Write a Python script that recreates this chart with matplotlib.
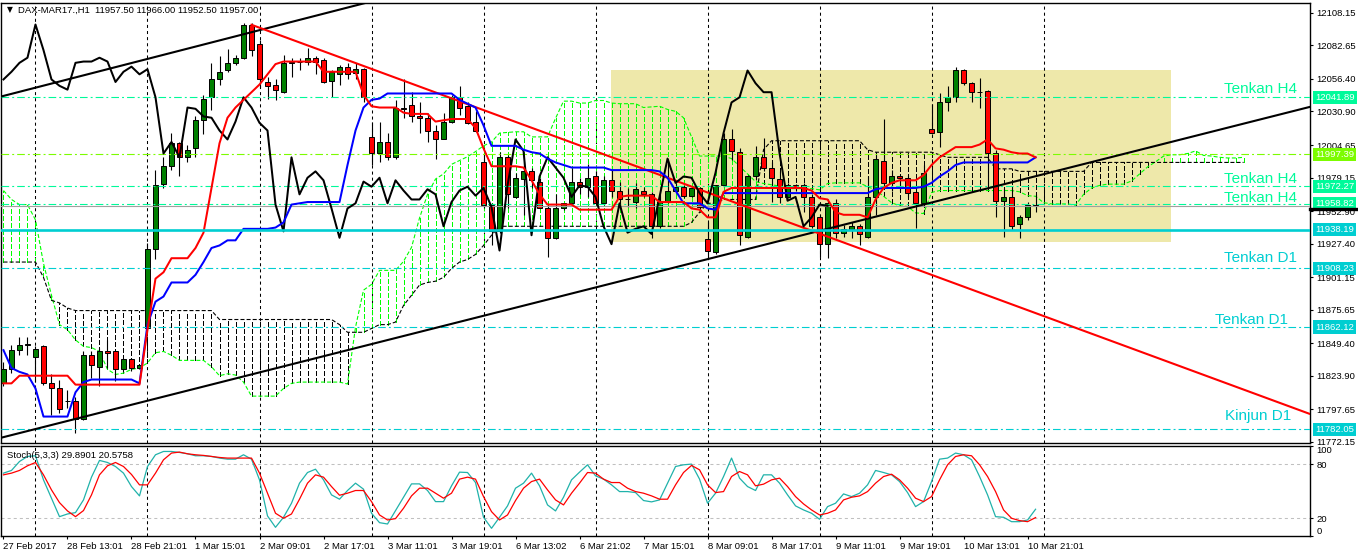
import matplotlib
matplotlib.use('Agg')
import matplotlib.pyplot as plt
import numpy as np
from matplotlib.patches import Rectangle
from matplotlib.transforms import blended_transform_factory as blend

plt.rcParams['font.family'] = ['Liberation Sans', 'DejaVu Sans']
plt.rcParams['lines.scale_dashes'] = False

# --- DAX-MAR17 H1 ---
opens = [11818, 11829, 11844, 11848, 11839, 11847, 11818, 11814, 11804, 11804,
         11790, 11840, 11831, 11843, 11843, 11829, 11837, 11830, 11861, 11923,
         11974, 11988, 12006, 11995, 12002, 12024, 12042, 12056, 12063, 12069,
         12073, 12099, 12084, 12054, 12052, 12046, 12069, 12070, 12070, 12073,
         12071, 12055, 12060, 12066, 12061, 12064, 12011, 11998, 12007, 11995,
         12034, 12036, 12027, 12026, 12016, 12009, 12023, 12042, 12035, 12023,
         11991, 11958, 11937, 11995, 11964, 11978, 11984, 11976, 11955, 11932,
         11955, 11959, 11976, 11972, 11980, 11959, 11977, 11969, 11962, 11960,
         11969, 11966, 11941, 11960, 11969, 11972, 11965, 11971, 11931, 11921,
         11973, 12009, 11999, 11933, 11980, 11995, 11987, 11978, 11964, 11973,
         11973, 11964, 11948, 11927, 11959, 11936, 11939, 11941, 11933, 11964,
         11992, 11975, 11980, 11979, 11968, 11959, 12017, 12015, 12038, 12042,
         12063, 12053, 12046, 12047, 11998, 11961, 11964, 11943, 11948, 11957.5]
highs = [11835, 11848, 11854, 11854, 11847, 11848, 11825, 11821, 11813, 11807,
         11843, 11843, 11846, 11852, 11843, 11838, 11838, 11833, 11928, 11985,
         11995, 12014, 12007, 12005, 12027, 12044, 12069, 12074, 12080, 12075,
         12100, 12100, 12087, 12058, 12056, 12075, 12073, 12073, 12081, 12074,
         12073, 12063, 12067, 12069, 12069, 12065, 12023, 12023, 12014, 12040,
         12056, 12046, 12038, 12030, 12020, 12030, 12044, 12051, 12038, 12031,
         11997, 11959, 11999, 11997, 11983, 11991, 11987, 11979, 11958, 11966,
         11959, 11987, 11979, 11990, 11984, 11980, 11985, 11976, 11971, 11975,
         11972, 11968, 11966, 11994, 11975, 11973, 11972, 11972, 11944, 11973,
         12014, 12017, 12002, 11981, 12004, 12010, 11991, 11984, 11975, 11974,
         11975, 11966, 11950, 11962, 11962, 11942, 11944, 11943, 11980, 11997,
         12025, 11985, 11981, 11981, 11969, 11989, 12037, 12045, 12051, 12066,
         12064, 12054, 12057, 12048, 12001, 11971, 11972, 11950, 11960, 11966]
lows = [11816, 11826, 11840, 11840, 11819, 11817, 11793, 11795, 11799, 11779,
        11789, 11822, 11816, 11830, 11820, 11828, 11828, 11829, 11860, 11915,
        11971, 11985, 11980, 11991, 11995, 12013, 12032, 12052, 12062, 12067,
        12072, 12074, 12049, 12041, 12040, 12045, 12058, 12063, 12067, 12060,
        12053, 12042, 12052, 12056, 12056, 12038, 11989, 11991, 11993, 11994,
        12026, 12023, 12014, 12007, 11994, 12009, 12022, 12028, 12021, 12015,
        11955, 11926, 11936, 11955, 11963, 11950, 11971, 11955, 11917, 11931,
        11954, 11958, 11966, 11964, 11958, 11958, 11964, 11958, 11956, 11955,
        11964, 11932, 11940, 11959, 11967, 11963, 11964, 11952, 11916, 11919,
        11972, 11993, 11926, 11932, 11977, 11984, 11960, 11959, 11963, 11969,
        11952, 11940, 11917, 11916, 11932, 11933, 11932, 11926, 11932, 11950,
        11973, 11969, 11969, 11964, 11940, 11958, 12013, 12003, 12031, 12038,
        12052, 12038, 12034, 11972, 11948, 11933, 11938, 11932, 11946, 11952.5]
closes = [11829, 11844, 11848, 11849, 11845, 11818, 11814, 11798, 11804, 11790,
          11840, 11832, 11843, 11842, 11829, 11837, 11830, 11832, 11923, 11973,
          11988, 12006, 11995, 12001, 12024, 12041, 12056, 12062, 12069, 12073,
          12099, 12079, 12056, 12051, 12048, 12069, 12070, 12070, 12073, 12070,
          12054, 12062, 12066, 12060, 12064, 12042, 11998, 12007, 11995, 12034,
          12033, 12027, 12026, 12016, 12009, 12023, 12042, 12034, 12022, 12016,
          11958, 11937, 11995, 11966, 11979, 11984, 11977, 11955, 11932, 11955,
          11959, 11976, 11972, 11979, 11959, 11977, 11969, 11962, 11962, 11970,
          11966, 11941, 11960, 11969, 11972, 11965, 11971, 11956, 11922, 11973,
          12009, 12000, 11934, 11980, 11995, 11987, 11979, 11964, 11973, 11972,
          11964, 11941, 11927, 11959, 11936, 11939, 11941, 11935, 11964, 11994,
          11975, 11980, 11979, 11967, 11959, 11983, 12014, 12038, 12042, 12063,
          12053, 12046, 12046, 11998, 11961, 11964, 11941, 11948, 11958, 11957]

tenkan = [11818, 11818, 11824, 11824, 11824, 11824, 11824, 11824, 11824, 11817,
          11817, 11817, 11817, 11817, 11817, 11817, 11817, 11817, 11860, 11900,
          11905, 11916, 11916, 11916, 11924, 11936, 11971, 12006, 12026, 12034,
          12040, 12046, 12052, 12060, 12068, 12070, 12070, 12070, 12070, 12070,
          12062, 12062, 12062, 12062, 12062, 12044, 12035, 12034, 12034, 12034,
          12030, 12029, 12029, 12029, 12023, 12024, 12025, 12025, 12025, 12018,
          12002, 11988, 11988, 11988, 11988, 11987, 11977, 11966, 11958, 11958,
          11958, 11958, 11954, 11954, 11954, 11954, 11954, 11964, 11965, 11965,
          11965, 11965, 11960, 11960, 11960, 11960, 11955, 11954, 11948, 11948,
          11968, 11971, 11971, 11971, 11971, 11971, 11971, 11971, 11971, 11971,
          11971, 11969, 11963, 11962, 11952, 11950, 11950, 11950, 11948, 11962,
          11971, 11975, 11977, 11977, 11977, 11981, 11989, 11995, 11999, 12003,
          12003, 12003, 12005, 12009, 12002, 12001, 11999, 11998, 11998, 11995]
kijun = [11844, 11830, 11827, 11825, 11814, 11792, 11792, 11792, 11792, 11811,
         11819, 11821, 11821, 11821, 11821, 11821, 11821, 11818, 11864, 11882,
         11886, 11897, 11897, 11897, 11903, 11913, 11924, 11926, 11930, 11930,
         11939, 11939, 11939, 11939, 11940, 11944, 11958, 11959, 11960, 11960,
         11960, 11960, 11960, 11989, 12016, 12034, 12040, 12041, 12045, 12045,
         12045, 12045, 12045, 12045, 12045, 12045, 12045, 12040, 12037, 12034,
         12020, 12004, 12004, 12004, 12004, 12001, 11999, 11998, 11994, 11991,
         11989, 11987, 11987, 11987, 11987, 11987, 11985, 11985, 11985, 11985,
         11985, 11985, 11984, 11979, 11969, 11959, 11959, 11959, 11955, 11954,
         11967, 11967, 11967, 11967, 11967, 11967, 11967, 11967, 11967, 11967,
         11967, 11967, 11967, 11967, 11967, 11967, 11967, 11967, 11967, 11970,
         11971, 11971, 11971, 11971, 11971, 11972, 11975, 11980, 11984, 11989,
         11991, 11991, 11991, 11991, 11991, 11991, 11991, 11991, 11991, 11995]
# senkou A on the first 26 bars (comes from bars left of the screen)
span_a_head = [11969, 11962, 11958, 11958, 11946, 11912, 11887, 11864, 11860, 11852,
               11847, 11846, 11843, 11829, 11825, 11826, 11829, 11830, 11834, 11842,
               11843, 11840, 11836, 11836, 11836, 11836]
span_b = [11913, 11913, 11913, 11913, 11913, 11901, 11883, 11881, 11877, 11875,
          11875, 11875, 11875, 11875, 11875, 11875, 11875, 11875, 11875, 11875,
          11875, 11875, 11875, 11875, 11875, 11875, 11875, 11868, 11868, 11868,
          11868, 11868, 11868, 11868, 11868, 11868, 11868, 11868, 11868, 11868,
          11868, 11868, 11864, 11858, 11858, 11858, 11861, 11864, 11864, 11866,
          11879, 11887, 11895, 11897, 11898, 11901, 11908, 11913, 11915, 11919,
          11926, 11934, 11941, 11941, 11941, 11941, 11941, 11941, 11941, 11941,
          11941, 11941, 11941, 11941, 11941, 11941, 11941, 11941, 11941, 11941,
          11941, 11941, 11941, 11941, 11941, 11941, 11944, 11952, 11959, 11959,
          11962, 11962, 11962, 11962, 11962, 12001, 12008, 12008, 12008, 12008,
          12008, 12008, 12008, 12008, 12008, 12008, 12008, 12008, 12001, 11999,
          11999, 11999, 11999, 11999, 11999, 11999, 11999, 11997, 11995, 11995,
          11995, 11995, 11995, 11995, 11986, 11986, 11986, 11984, 11984, 11984,
          11984, 11984, 11984, 11984, 11984, 11984, 11991, 11991, 11991, 11991,
          11991, 11991, 11991, 11991, 11991, 11991, 11991, 11991, 11991, 11991,
          11991, 11991, 11991, 11991, 11991, 11991]

stoch_main = [70.2, 73.2, 83.2, 88.8, 89.6, 62.7, 42.2, 21.6, 24.6, 26.1,
              40.3, 65.7, 84.4, 82.1, 77.6, 70.2, 55.2, 44.8, 77.6, 90.7,
              94.4, 94.4, 93.3, 91.8, 89.6, 89.6, 88.8, 87.0, 85.8, 85.8,
              90.7, 85.8, 62.7, 22.4, 9.7, 20.9, 36.6, 59.0, 70.9, 74.6,
              62.7, 45.9, 41.1, 50.8, 59.0, 52.3, 25.4, 14.9, 13.4, 28.4,
              43.3, 58.2, 58.2, 50.8, 38.4, 38.4, 56.0, 71.3, 70.9, 59.7,
              20.9, 8.6, 20.9, 33.6, 53.4, 59.0, 70.2, 56.0, 34.7, 28.0,
              43.3, 62.7, 71.3, 79.5, 67.2, 63.5, 57.1, 49.6, 49.6, 48.5,
              39.6, 38.1, 40.3, 59.0, 77.6, 79.5, 80.3, 63.5, 36.6, 47.8,
              66.4, 87.0, 64.6, 55.2, 50.8, 68.3, 68.3, 59.0, 45.9, 33.6,
              29.1, 25.4, 18.7, 32.8, 36.6, 47.0, 44.0, 47.8, 57.1, 73.2,
              70.9, 68.3, 60.8, 48.5, 32.8, 38.4, 60.8, 85.8, 87.0, 92.6,
              90.7, 85.1, 66.4, 45.9, 21.6, 20.9, 16.0, 16.0, 17.9, 29.89]
stoch_signal = [68.3, 70.2, 73.2, 78.4, 82.1, 68.3, 51.5, 37.3, 28.0, 21.6,
                28.4, 45.9, 68.3, 78.4, 82.1, 77.6, 68.7, 57.1, 57.1, 70.2,
                85.1, 92.6, 93.7, 91.8, 90.7, 90.0, 88.8, 87.7, 87.0, 87.0,
                87.0, 87.0, 70.2, 47.8, 25.4, 19.8, 24.6, 41.1, 59.0, 68.3,
                65.7, 55.2, 45.5, 47.8, 50.8, 50.8, 38.4, 23.5, 17.9, 19.4,
                31.0, 44.8, 53.4, 53.4, 47.8, 42.2, 47.8, 63.5, 65.7, 63.5,
                44.0, 27.2, 17.9, 23.5, 39.6, 53.4, 60.8, 63.5, 51.5, 40.3,
                34.7, 47.8, 59.0, 70.9, 70.2, 63.5, 59.7, 59.7, 53.4, 49.6,
                47.8, 44.8, 41.1, 41.1, 57.1, 70.9, 78.8, 73.9, 57.1, 48.5,
                49.6, 66.4, 72.0, 68.3, 56.0, 57.9, 62.7, 64.6, 55.2, 44.0,
                35.8, 29.1, 23.5, 25.4, 29.1, 40.3, 43.3, 44.8, 49.6, 59.0,
                66.4, 69.0, 62.7, 53.4, 42.2, 38.4, 44.0, 62.7, 79.5, 88.8,
                90.7, 89.6, 79.5, 66.4, 49.6, 29.1, 19.8, 17.2, 16.0, 20.58]

levels = [12041.89, 11997.39, 11972.27, 11958.82, 11938.19, 11908.23, 11862.12, 11782.05]
level_names = ['Tenkan H4', '', 'Tenkan H4', 'Tenkan H4', '', 'Tenkan D1', 'Tenkan D1', 'Kinjun D1']
bid = 11957.00

zone_bars = [75.94, 145.94]
zone_prices = [11928.7, 12063.4]
upper_channel = [(0, 12043.1), (45, 12115.5)]
lower_channel = [(0, 11775.9), (129, 11980.2)]
red_trend = [(31, 12098.8), (164, 11792.4)]

price_ticks = [12108.15, 12082.65, 12056.40, 12030.90, 12004.65, 11979.15, 11952.90,
               11927.40, 11901.15, 11875.65, 11849.40, 11823.90, 11797.65, 11772.15]
time_labels = ['27 Feb 2017', '28 Feb 13:01', '28 Feb 21:01', '1 Mar 15:01', '2 Mar 09:01',
               '2 Mar 17:01', '3 Mar 11:01', '3 Mar 19:01', '6 Mar 13:02', '6 Mar 21:02',
               '7 Mar 15:01', '8 Mar 09:01', '8 Mar 17:01', '9 Mar 11:01', '9 Mar 19:01',
               '10 Mar 13:01', '10 Mar 21:01']
time_bars = [0, 8, 16, 24, 32, 40, 48, 56, 64, 72, 80, 88, 96, 104, 112, 120, 128]
grid_bars = [4, 18, 32, 46, 60, 74, 88, 102, 116, 130]
SHIFT = 26

# styles
MSG = '#00FA9A'
LAWN = '#7CFC00'
TURQ = '#00CED1'
level_colors = [MSG, LAWN, MSG, MSG, TURQ, TURQ, TURQ, TURQ]
level_solid = [False, False, False, False, True, False, False, False]
name_x = [0.990, 0, 0.990, 0.990, 0, 0.990, 0.983, 0.986]
name_dy = [2.9, 0, 2.2, 1.4, 0, 4.3, 2.2, 6.5]
DASHDOT = (0, (5.5, 2.2, 1.4, 2.2))
DOTS = (0, (2.9, 1.5))
GRID = (0, (2.2, 2.2))

W, H = 1358, 557
fig = plt.figure(figsize=(W / 100, H / 100), dpi=100)


def box(x0, y0, x1, y1):
    return [x0 / W, 1 - y1 / H, (x1 - x0) / W, (y1 - y0) / H]


ax = fig.add_axes(box(1, 3, 1310, 443))
st = fig.add_axes(box(1, 446, 1310, 536))
for a in (ax, st):
    a.set_xlim(-0.31, 163.3)
    for s in a.spines.values():
        s.set_linewidth(1.0)
ax.set_ylim(11771.3, 12115.85)
st.set_ylim(0, 100.5)

o, h, l, c = map(np.array, (opens, highs, lows, closes))
x = np.arange(len(c))

ax.add_patch(Rectangle((zone_bars[0], zone_prices[0]), zone_bars[1] - zone_bars[0],
                       zone_prices[1] - zone_prices[0], fc='#EEE8AA', ec='none', zorder=0.5))

for g in grid_bars:
    ax.axvline(g, color='black', ls=GRID, lw=0.75, zorder=1)
    st.axvline(g, color='black', ls=GRID, lw=0.75, zorder=1)

# kumo
sa = np.array(span_a_head + [(t + k) / 2 for t, k in zip(tenkan, kijun)])
sb = np.array(span_b)
kx = np.arange(len(sb))
bull = sa >= sb
ax.vlines(kx[bull], sb[bull], sa[bull], colors='#00FF00', linestyles=DOTS, lw=0.72,
          antialiased=False, zorder=1.2)
ax.vlines(kx[~bull], sa[~bull], sb[~bull], colors='black', linestyles=DOTS, lw=0.72,
          antialiased=False, zorder=1.2)
ax.plot(kx, sa, color='#00FF00', ls=DOTS, lw=0.8, zorder=1.3)
ax.plot(kx, sb, color='black', ls=DOTS, lw=0.8, zorder=1.3)

# candles
up = c >= o
ax.vlines(x, l, h, color='black', lw=0.8, zorder=3)
ax.bar(x, np.abs(c - o), bottom=np.minimum(o, c), width=0.6,
       color=np.where(up, '#008000', '#FF0000'), edgecolor='black', lw=0.7, zorder=3.5)

# horizontal levels
tr = blend(fig.transFigure, ax.transData)
for p, col, solid, name, nx, dy in zip(levels, level_colors, level_solid, level_names, name_x, name_dy):
    if solid:
        ax.axhline(p, color=col, lw=1.9, zorder=7)
    else:
        ax.axhline(p, color=col, ls=DASHDOT, lw=0.8, zorder=4.5)
    ax.text(1315 / W, p, f'{p:.2f}', transform=tr, color='white', fontsize=6.8,
            va='center', ha='left', zorder=10,
            bbox=dict(boxstyle='square,pad=0.22', fc=col, ec='none'))
    if name:
        ax.annotate(name, xy=(nx, p), xycoords=('axes fraction', 'data'), xytext=(0, dy),
                    textcoords='offset points', ha='right', va='baseline', color=col, fontsize=11)
ax.axhline(bid, color='#A0A0A0', lw=0.8, zorder=4.4)
ax.plot([1310 / W, 1358 / W], [11954.6, 11954.6], transform=tr, color='black', lw=2.4,
        clip_on=False, zorder=11)

# trendlines
ax.axline(upper_channel[0], upper_channel[1], color='black', lw=1.5, zorder=5)
ax.axline(lower_channel[0], lower_channel[1], color='black', lw=1.5, zorder=5)
ax.plot([p[0] for p in red_trend], [p[1] for p in red_trend], color='#FF0000', lw=1.5, zorder=5)

# ichimoku lines
ax.plot(x[:len(c) - SHIFT], c[SHIFT:], color='black', lw=1.45, zorder=6)
ax.plot(x, kijun, color='#0000FF', lw=1.45, zorder=6)
ax.plot(x, tenkan, color='#FF0000', lw=1.45, zorder=6)

# stochastic
st.axhline(80, color='#C0C0C0', ls=GRID, lw=0.75)
st.axhline(20, color='#C0C0C0', ls=GRID, lw=0.75)
st.plot(x, stoch_main, color='#20B2AA', lw=0.9)
st.plot(x, stoch_signal, color='#FF0000', lw=0.9)

# axes
ax.yaxis.tick_right()
ax.set_yticks(price_ticks)
ax.set_yticklabels([f'{v:.2f}' for v in price_ticks])
ax.tick_params(axis='y', length=2.5, width=0.8, pad=2, labelsize=6.8)
ax.tick_params(axis='x', bottom=False, labelbottom=False)
st.yaxis.tick_right()
st.set_yticks([100, 80, 20, 0])
st.set_yticklabels(['100', '80', '20', '0'])
st.tick_params(axis='y', length=2.5, width=0.8, pad=2, labelsize=6.8)
labs = st.get_yticklabels()
labs[0].set_va('top')
labs[-1].set_va('bottom')
st.set_xticks(time_bars)
st.set_xticklabels(time_labels, ha='left')
st.tick_params(axis='x', length=2.5, width=0.8, pad=1.5, labelsize=6.8)

fig.text(7 / W, 1 - 10 / H, '\u25bc', fontsize=5.5, va='center', family='DejaVu Sans')
fig.text(18 / W, 1 - 10 / H, 'DAX-MAR17.,H1  11957.50 11966.00 11952.50 11957.00',
         fontsize=6.8, va='center')
fig.text(7 / W, 1 - 455 / H, 'Stoch(5,3,3) 29.8901 20.5758', fontsize=6.8, va='center')

fig.savefig('out.png', dpi=100)
